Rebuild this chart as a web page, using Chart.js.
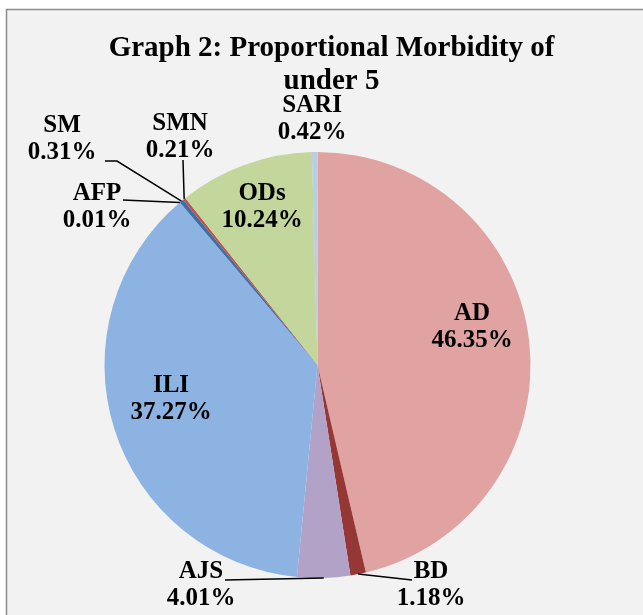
<!DOCTYPE html>
<html>
<head>
<meta charset="utf-8">
<script src="https://cdn.jsdelivr.net/npm/chart.js@4.4.1/dist/chart.umd.min.js"></script>
<style>
  html, body { margin: 0; padding: 0; background: #fff; }
  canvas { display: block; }
</style>
</head>
<body>
<canvas id="pie" width="643" height="615"></canvas>
<script>
// Proportional morbidity, under 5 (percent of cases)
const categories = ["AD", "BD", "AJS", "ILI", "AFP", "SM", "SMN", "ODs", "SARI"];
const shares = [46.35, 1.18, 4.01, 37.27, 0.01, 0.31, 0.21, 10.24, 0.42];
const sliceColors = ["#E0A3A2", "#953735", "#B3A2C7", "#8DB3E2", "#4BACC6", "#3E6EA8", "#C0504D", "#C3D69B", "#B9CDE5"];
const titleLines = ["Graph 2: Proportional Morbidity of", "under 5"];

// where each label sits (centre x, baseline of first line)
const labelPos = {
  AD: [472, 320], BD: [431, 578], AJS: [201, 578], ILI: [171, 392],
  AFP: [97, 200], SM: [62, 132], SMN: [180, 130], ODs: [262, 200], SARI: [312, 112]
};
// leader line points, from the label side towards the slice
const leaderPts = {
  AJS: [[225, 580]],
  BD: [[412, 580]],
  AFP: [[123, 200]],
  SM: [[105, 161], [117, 161]],
  SMN: [[183, 160]]
};

const FONT = '"Liberation Serif", "DejaVu Serif", serif';

const frame = {
  id: "frame",
  beforeDraw(chart) {
    const c = chart.ctx;
    c.save();
    c.fillStyle = "#fff";
    c.fillRect(0, 0, chart.width, chart.height);
    c.fillStyle = "#F2F2F2";
    c.fillRect(7, 10, chart.width, chart.height);
    c.strokeStyle = "#8C8C8C";
    c.lineWidth = 1.5;
    c.beginPath();
    c.moveTo(6.5, chart.height);
    c.lineTo(6.5, 9.5);
    c.lineTo(chart.width, 9.5);
    c.stroke();
    c.restore();
  }
};

const labelsPlugin = {
  id: "sliceLabels",
  afterDatasetsDraw(chart) {
    const c = chart.ctx;
    const arcs = chart.getDatasetMeta(0).data;
    c.save();

    // title
    c.fillStyle = "#000";
    c.textAlign = "center";
    c.textBaseline = "alphabetic";
    c.font = "bold 29px " + FONT;
    c.fillText(titleLines[0], 331.5, 56);
    c.fillText(titleLines[1], 331.5, 89);

    // leader lines
    c.strokeStyle = "#000";
    c.lineWidth = 1.5;
    arcs.forEach((arc, i) => {
      const pts = leaderPts[categories[i]];
      if (!pts) return;
      const p = arc.getProps(["x", "y", "startAngle", "endAngle", "outerRadius"], true);
      const mid = (p.startAngle + p.endAngle) / 2;
      const ex = p.x + Math.cos(mid) * p.outerRadius;
      const ey = p.y + Math.sin(mid) * p.outerRadius;
      c.beginPath();
      c.moveTo(pts[0][0], pts[0][1]);
      for (let k = 1; k < pts.length; k++) c.lineTo(pts[k][0], pts[k][1]);
      c.lineTo(ex, ey);
      c.stroke();
    });

    // text labels
    c.font = "bold 25px " + FONT;
    categories.forEach((name, i) => {
      const [x, y] = labelPos[name];
      c.fillText(name, x, y);
      c.fillText(shares[i].toFixed(2) + "%", x, y + 27);
    });
    c.restore();
  }
};

new Chart(document.getElementById("pie"), {
  type: "pie",
  data: {
    labels: categories,
    datasets: [{
      data: shares,
      backgroundColor: sliceColors,
      borderWidth: 0
    }]
  },
  options: {
    responsive: false,
    animation: false,
    layout: { padding: { left: 104.5, right: 112.5, top: 152, bottom: 37 } },
    plugins: {
      legend: { display: false },
      tooltip: { enabled: false }
    }
  },
  plugins: [frame, labelsPlugin]
});
</script>
</body>
</html>
